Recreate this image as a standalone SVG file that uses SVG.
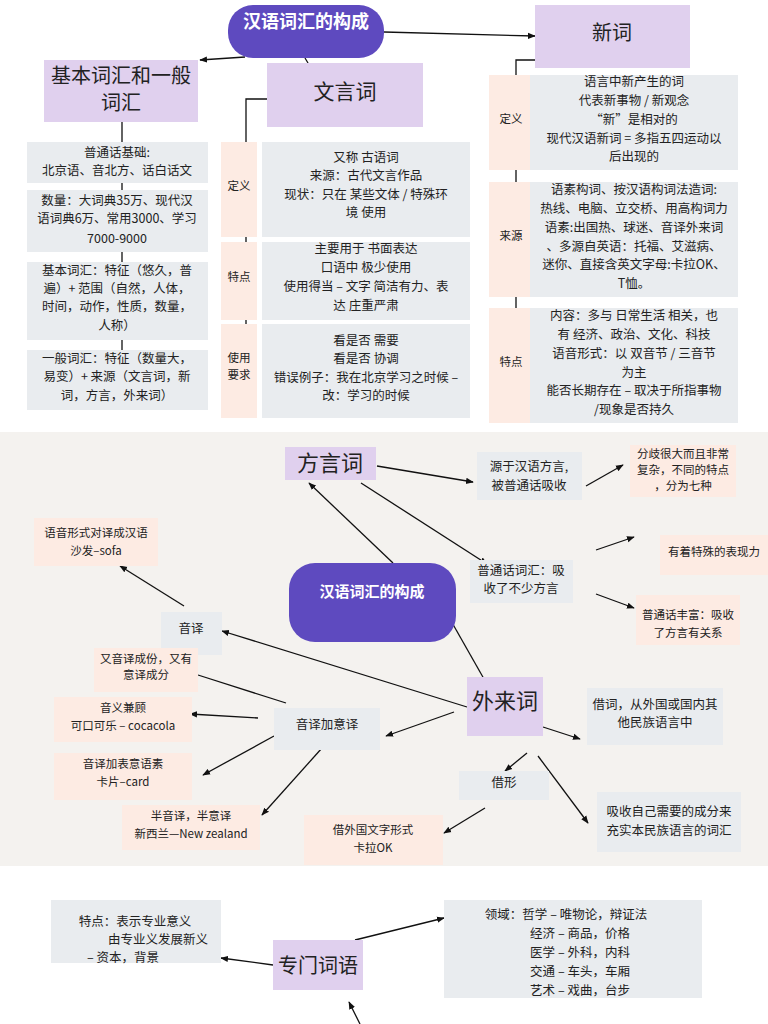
<svg xmlns="http://www.w3.org/2000/svg" width="768" height="1024" viewBox="0 0 768 1024">
<defs>
<marker id="ah" viewBox="0 0 10 10" refX="9" refY="5" markerWidth="6" markerHeight="6" orient="auto-start-reverse"><path d="M0,1 L10,5 L0,9 z" fill="#111"/></marker>
<style>
text{font-family:"Noto Sans CJK SC","Noto Sans",sans-serif;fill:#222;text-anchor:middle}
.g{fill:#e9ecef}.p{fill:#fdebe3}.l{fill:#e0d0ee}.c{fill:#5e4abf}
.t{font-size:12.5px}.s{font-size:11.5px}
.w{fill:#fff;font-weight:bold}
.ln{stroke:#111;stroke-width:1.3;fill:none}
.ar{stroke:#111;stroke-width:1.3;fill:none;marker-end:url(#ah)}
</style>
</defs>
<rect width="768" height="1024" fill="#fff"/>
<rect x="0" y="432" width="768" height="434" fill="#f4f2ef"/>

<g id="connectors">
<line class="ar" x1="245" y1="57" x2="200" y2="60"/>
<line class="ar" x1="384" y1="32" x2="535" y2="36"/>
<line class="ln" x1="305" y1="58" x2="308" y2="63"/>
<path class="ln" d="M122,122 V142 M122,183 V190 M122,252 V262 M122,340 V350"/>
<path class="ln" d="M267,99 H246 V142 M246,237 V242 M246,320 V324"/>
<path class="ln" d="M535,60 H516 V75 M516,170 V182 M516,297 V308"/>
<line class="ar" x1="377" y1="466" x2="473" y2="482"/>
<line class="ar" x1="586" y1="486" x2="623" y2="465"/>
<line class="ar" x1="393" y1="563" x2="309" y2="483"/>
<line class="ar" x1="361" y1="483" x2="487" y2="564"/>
<line class="ar" x1="596" y1="550" x2="634" y2="537"/>
<line class="ar" x1="596" y1="594" x2="634" y2="608"/>
<line class="ar" x1="442" y1="605" x2="488" y2="686"/>
<line class="ar" x1="467" y1="707" x2="222" y2="631"/>
<line class="ar" x1="184" y1="606" x2="120" y2="566"/>
<line class="ln" x1="198" y1="675" x2="286" y2="703"/>
<line class="ar" x1="258" y1="718" x2="190" y2="714"/>
<line class="ar" x1="454" y1="712" x2="386" y2="736"/>
<line class="ar" x1="274" y1="736" x2="203" y2="775"/>
<line class="ar" x1="322" y1="748" x2="262" y2="815"/>
<line class="ar" x1="543" y1="727" x2="580" y2="739"/>
<line class="ar" x1="527" y1="753" x2="505" y2="771"/>
<line class="ar" x1="538" y1="756" x2="588" y2="823"/>
<line class="ar" x1="485" y1="808" x2="444" y2="833"/>
<line class="ar" x1="273" y1="965" x2="221" y2="958"/>
<line class="ar" x1="355" y1="940" x2="444" y2="918"/>
<line class="ar" x1="360" y1="1024" x2="349" y2="1002"/>
</g>

<g id="title"><rect class="c" x="228" y="5" width="156" height="53" rx="25"/><text class="w" x="306" y="28" font-size="18">汉语词汇的构成</text></g>
<g id="xinci"><rect class="l" x="535" y="5" width="155" height="63"/><text x="612" y="40" font-size="20">新词</text></g>
<g id="jiben"><rect class="l" x="44" y="60" width="154" height="62"/><text x="121" y="83" font-size="20">基本词汇和一般</text><text x="121" y="110" font-size="20">词汇</text></g>
<g id="wenyan"><rect class="l" x="267" y="63" width="156" height="64"/><text x="345" y="99" font-size="21">文言词</text></g>

<g id="j1"><rect class="g" x="27" y="142" width="181" height="41"/><text class="t" x="117" y="157">普通话基础:</text><text class="t" x="117" y="175">北京语、音北方、话白话文</text></g>
<g id="j2"><rect class="g" x="27" y="190" width="181" height="62"/><text class="t" x="117" y="205">数量：大词典35万、现代汉</text><text class="t" x="117" y="223">语词典6万、常用3000、学习</text><text class="t" x="117" y="243">7000-9000</text></g>
<g id="j3"><rect class="g" x="27" y="262" width="181" height="78"/><text class="t" x="117" y="275">基本词汇：特征（悠久，普</text><text class="t" x="117" y="293">遍）+ 范围（自然，人体，</text><text class="t" x="117" y="311">时间，动作，性质，数量，</text><text class="t" x="117" y="330">人称）</text></g>
<g id="j4"><rect class="g" x="27" y="350" width="181" height="60"/><text class="t" x="117" y="363">一般词汇：特征（数量大，</text><text class="t" x="117" y="381">易变）+ 来源（文言词，新</text><text class="t" x="117" y="400">词，方言，外来词）</text></g>

<g id="w1"><rect class="p" x="221" y="142" width="36" height="95"/><text class="s" x="239" y="190">定义</text><rect class="g" x="262" y="142" width="208" height="95"/><text class="t" x="366" y="162">又称  古语词</text><text class="t" x="366" y="180">来源：古代文言作品</text><text class="t" x="366" y="199">现状：只在  某些文体  /  特殊环</text><text class="t" x="366" y="217">境  使用</text></g>
<g id="w2"><rect class="p" x="221" y="242" width="36" height="78"/><text class="s" x="239" y="281">特点</text><rect class="g" x="262" y="242" width="208" height="78"/><text class="t" x="366" y="253">主要用于  书面表达</text><text class="t" x="366" y="272">口语中  极少使用</text><text class="t" x="366" y="291">使用得当 – 文字  简洁有力、表</text><text class="t" x="366" y="310">达  庄重严肃</text></g>
<g id="w3"><rect class="p" x="221" y="324" width="36" height="94"/><text class="s" x="239" y="362">使用</text><text class="s" x="239" y="379">要求</text><rect class="g" x="262" y="324" width="208" height="94"/><text class="t" x="366" y="345">看是否  需要</text><text class="t" x="366" y="363">看是否  协调</text><text class="t" x="366" y="382">错误例子：我在北京学习之时候 –</text><text class="t" x="366" y="400">改：学习的时候</text></g>

<g id="x1"><rect class="p" x="489" y="75" width="44" height="95"/><text class="s" x="511" y="123">定义</text><rect class="g" x="530" y="75" width="208" height="95"/><text class="t" x="634" y="86">语言中新产生的词</text><text class="t" x="634" y="105">代表新事物  /  新观念</text><text class="t" x="634" y="124">“新”是相对的</text><text class="t" x="634" y="143">现代汉语新词 = 多指五四运动以</text><text class="t" x="634" y="161">后出现的</text></g>
<g id="x2"><rect class="p" x="489" y="182" width="44" height="115"/><text class="s" x="511" y="240">来源</text><rect class="g" x="530" y="182" width="208" height="115"/><text class="t" x="634" y="194">语素构词、按汉语构词法造词:</text><text class="t" x="634" y="213">热线、电脑、立交桥、用高构词力</text><text class="t" x="634" y="232">语素:出国热、球迷、音译外来词</text><text class="t" x="634" y="251">、多源自英语：托福、艾滋病、</text><text class="t" x="634" y="269">迷你、直接含英文字母:卡拉OK、</text><text class="t" x="634" y="288">T恤。</text></g>
<g id="x3"><rect class="p" x="489" y="308" width="44" height="115"/><text class="s" x="511" y="366">特点</text><rect class="g" x="530" y="308" width="208" height="115"/><text class="t" x="634" y="320">内容：多与 日常生活 相关，也</text><text class="t" x="634" y="339">有 经济、政治、文化、科技</text><text class="t" x="634" y="358">语音形式：以 双音节 / 三音节</text><text class="t" x="634" y="377">为主</text><text class="t" x="634" y="395">能否长期存在 – 取决于所指事物</text><text class="t" x="634" y="414">/现象是否持久</text></g>

<g id="fangyan"><rect class="l" x="285" y="447" width="91" height="33"/><text x="330" y="471" font-size="22">方言词</text></g>
<g id="yuanyu"><rect class="g" x="477" y="452" width="105" height="48"/><text class="t" x="529" y="471">源于汉语方言,</text><text class="t" x="529" y="490">被普通话吸收</text></g>
<g id="fenqi"><rect class="p" x="630" y="445" width="106" height="52"/><text class="s" x="683" y="458">分歧很大而且非常</text><text class="s" x="683" y="474">复杂，不同的特点</text><text class="s" x="683" y="490">，分为七种</text></g>
<g id="center"><rect class="c" x="289" y="563" width="167" height="79" rx="26"/><text class="w" x="372" y="597" font-size="15">汉语词汇的构成</text></g>
<g id="putong"><rect class="g" x="470" y="560" width="103" height="43"/><text class="t" x="521" y="575">普通话词汇：吸</text><text class="t" x="521" y="593">收了不少方言</text></g>
<g id="teshu"><rect class="p" x="660" y="535" width="108" height="40"/><text class="s" x="714" y="556">有着特殊的表现力</text></g>
<g id="fengfu"><rect class="p" x="636" y="595" width="104" height="50"/><text class="s" x="688" y="619">普通话丰富：吸收</text><text class="s" x="688" y="637">了方言有关系</text></g>
<g id="yuyin"><rect class="p" x="34" y="518" width="124" height="48"/><text class="s" x="96" y="537">语音形式对译成汉语</text><text class="s" x="96" y="555">沙发–sofa</text></g>
<g id="yinyi"><rect class="g" x="161" y="612" width="61" height="43"/><text class="t" x="191" y="633">音译</text></g>
<g id="youyin"><rect class="p" x="94" y="648" width="104" height="44"/><text class="s" x="146" y="663">又音译成份，又有</text><text class="s" x="146" y="679">意译成分</text></g>
<g id="yinyijian"><rect class="p" x="54" y="697" width="138" height="45"/><text class="s" x="123" y="712">音义兼顾</text><text class="s" x="123" y="730">可口可乐 – cocacola</text></g>
<g id="jiayi"><rect class="g" x="274" y="708" width="106" height="42"/><text class="t" x="327" y="729">音译加意译</text></g>
<g id="wailai"><rect class="l" x="467" y="677" width="76" height="59"/><text x="505" y="709" font-size="22">外来词</text></g>
<g id="jieci"><rect class="g" x="587" y="688" width="136" height="57"/><text class="t" x="655" y="709">借词，从外国或国内其</text><text class="t" x="655" y="727">他民族语言中</text></g>
<g id="biaoyi"><rect class="p" x="54" y="753" width="138" height="47"/><text class="s" x="123" y="768">音译加表意语素</text><text class="s" x="123" y="786">卡片–card</text></g>
<g id="jiexing"><rect class="g" x="459" y="771" width="90" height="29"/><text class="t" x="504" y="787">借形</text></g>
<g id="banyin"><rect class="p" x="122" y="805" width="138" height="45"/><text class="s" x="191" y="820">半音译，半意译</text><text class="s" x="191" y="838">新西兰—New zealand</text></g>
<g id="jiewai"><rect class="p" x="304" y="815" width="139" height="50"/><text class="s" x="373" y="834">借外国文字形式</text><text class="s" x="373" y="852">卡拉OK</text></g>
<g id="xishou"><rect class="g" x="597" y="792" width="144" height="60"/><text class="t" x="669" y="816">吸收自己需要的成分来</text><text class="t" x="669" y="835">充实本民族语言的词汇</text></g>

<g id="tedian"><rect class="g" x="51" y="900" width="170" height="63"/><text class="t" x="135" y="926">特点：表示专业意义</text><text class="t" x="158" y="944">由专业义发展新义</text><text class="t" x="123" y="962">– 资本，背景</text></g>
<g id="zhuanmen"><rect class="l" x="273" y="940" width="90" height="50"/><text x="318" y="973" font-size="20">专门词语</text></g>
<g id="lingyu"><rect class="g" x="444" y="900" width="258" height="98"/><text class="t" x="566" y="919">领域：哲学 – 唯物论，辩证法</text><text class="t" x="580" y="938">经济 – 商品，价格</text><text class="t" x="580" y="957">医学 – 外科，内科</text><text class="t" x="580" y="976">交通 – 车头，车厢</text><text class="t" x="580" y="995">艺术 – 戏曲，台步</text></g>
</svg>
